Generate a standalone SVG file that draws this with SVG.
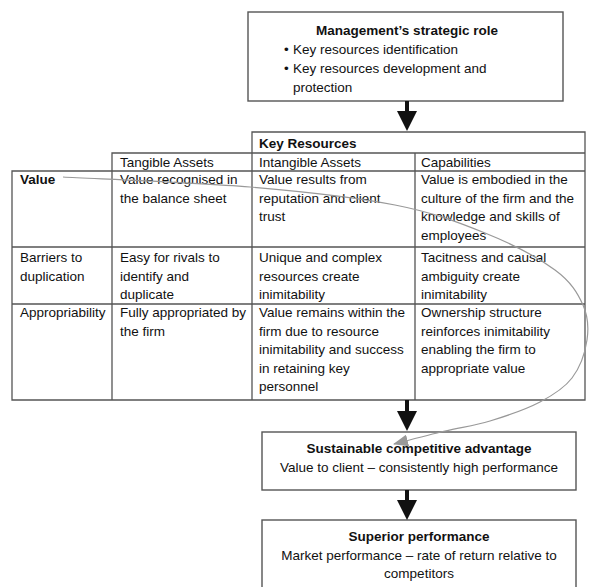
<svg xmlns="http://www.w3.org/2000/svg" width="590" height="587" viewBox="0 0 590 587">
<defs>
<style>
.box{fill:#fff;stroke:#555;stroke-width:1.4}
.ln{stroke:#555;stroke-width:1.3;fill:none}
text{font-family:"Liberation Sans",Arial,sans-serif;font-size:13.5px;fill:#111}
.b{font-weight:bold}
.c{text-anchor:middle}
.shaft{stroke:#111;stroke-width:4;fill:none}
.curve{stroke:#999;stroke-width:1.2;fill:none}
</style>
<marker id="blk" markerUnits="userSpaceOnUse" markerWidth="20" markerHeight="20" refX="0" refY="10" orient="auto">
<path d="M0,0 L20,10 L0,20 Z" fill="#111"/>
</marker>
<marker id="gry" markerUnits="userSpaceOnUse" markerWidth="15" markerHeight="12" refX="14" refY="6" orient="auto">
<path d="M0,0 L15,6 L0,12 Z" fill="#999"/>
</marker>
</defs>
<rect width="590" height="587" fill="#fff"/>

<g id="mgmt">
<rect class="box" x="248" y="12" width="315" height="89"/>
<text class="b c" x="407" y="35">Management’s strategic role</text>
<text x="284" y="54">•</text><text x="293" y="54">Key resources identification</text>
<text x="284" y="73">•</text><text x="293" y="73">Key resources development and</text>
<text x="293" y="91.5">protection</text>
</g>

<g id="key-resources">
<path class="ln" d="M252,132 H585 V400 H12 V171 H112 V153 H252 Z M112,153 H585 M12,171 H585 M12,247 H585 M12,304 H585 M112,153 V400 M252,132 V400 M415,153 V400"/>
<text class="b" x="259" y="148">Key Resources</text>
<text x="120" y="167">Tangible Assets</text>
<text x="259" y="167">Intangible Assets</text>
<text x="421" y="167">Capabilities</text>

<text class="b" x="20" y="184">Value</text>
<text x="120" y="184">Value recognised in</text>
<text x="120" y="202.5">the balance sheet</text>
<text x="259" y="184">Value results from</text>
<text x="259" y="202.5">reputation and client</text>
<text x="259" y="221">trust</text>
<text x="421" y="184">Value is embodied in the</text>
<text x="421" y="202.5">culture of the firm and the</text>
<text x="421" y="221">knowledge and skills of</text>
<text x="421" y="239.5">employees</text>

<text x="20" y="262">Barriers to</text>
<text x="20" y="280.5">duplication</text>
<text x="120" y="262">Easy for rivals to</text>
<text x="120" y="280.5">identify and</text>
<text x="120" y="299">duplicate</text>
<text x="259" y="262">Unique and complex</text>
<text x="259" y="280.5">resources create</text>
<text x="259" y="299">inimitability</text>
<text x="421" y="262">Tacitness and causal</text>
<text x="421" y="280.5">ambiguity create</text>
<text x="421" y="299">inimitability</text>

<text x="20" y="317">Appropriability</text>
<text x="120" y="317">Fully appropriated by</text>
<text x="120" y="335.5">the firm</text>
<text x="259" y="317">Value remains within the</text>
<text x="259" y="335.5">firm due to resource</text>
<text x="259" y="354">inimitability and success</text>
<text x="259" y="372.5">in retaining key</text>
<text x="259" y="391">personnel</text>
<text x="421" y="317">Ownership structure</text>
<text x="421" y="335.5">reinforces inimitability</text>
<text x="421" y="354">enabling the firm to</text>
<text x="421" y="372.5">appropriate value</text>
</g>

<g id="sca">
<rect class="box" x="262" y="432" width="314" height="58"/>
<text class="b c" x="419" y="453">Sustainable competitive advantage</text>
<text class="c" x="419" y="471.5">Value to client – consistently high performance</text>
</g>

<g id="superior">
<rect class="box" x="262" y="520" width="314" height="75"/>
<text class="b c" x="419" y="541">Superior performance</text>
<text class="c" x="419" y="559.5">Market performance – rate of return relative to</text>
<text class="c" x="419" y="577.5">competitors</text>
</g>

<g id="connectors">
<line class="shaft" x1="407" y1="101" x2="407" y2="111" marker-end="url(#blk)"/>
<line class="shaft" x1="407" y1="400" x2="407" y2="411" marker-end="url(#blk)"/>
<line class="shaft" x1="407" y1="490" x2="407" y2="500" marker-end="url(#blk)"/>
<path class="curve" marker-end="url(#gry)" d="M63,177 C94.2,178.7 194.7,182.3 250,187 C305.3,191.7 355.8,197.3 395,205 C434.2,212.7 458.3,222.2 485,233 C511.7,243.8 538.7,258 555,270 C571.3,282 577.7,293.3 583,305 C588.3,316.7 588.8,327.8 587,340 C585.2,352.2 579.8,367.7 572,378 C564.2,388.3 553.7,394.8 540,402 C526.3,409.2 505.8,416.2 490,421 C474.2,425.8 461,427.2 445,431 C429,434.8 402.5,441.8 394,444"/>
</g>
</svg>
